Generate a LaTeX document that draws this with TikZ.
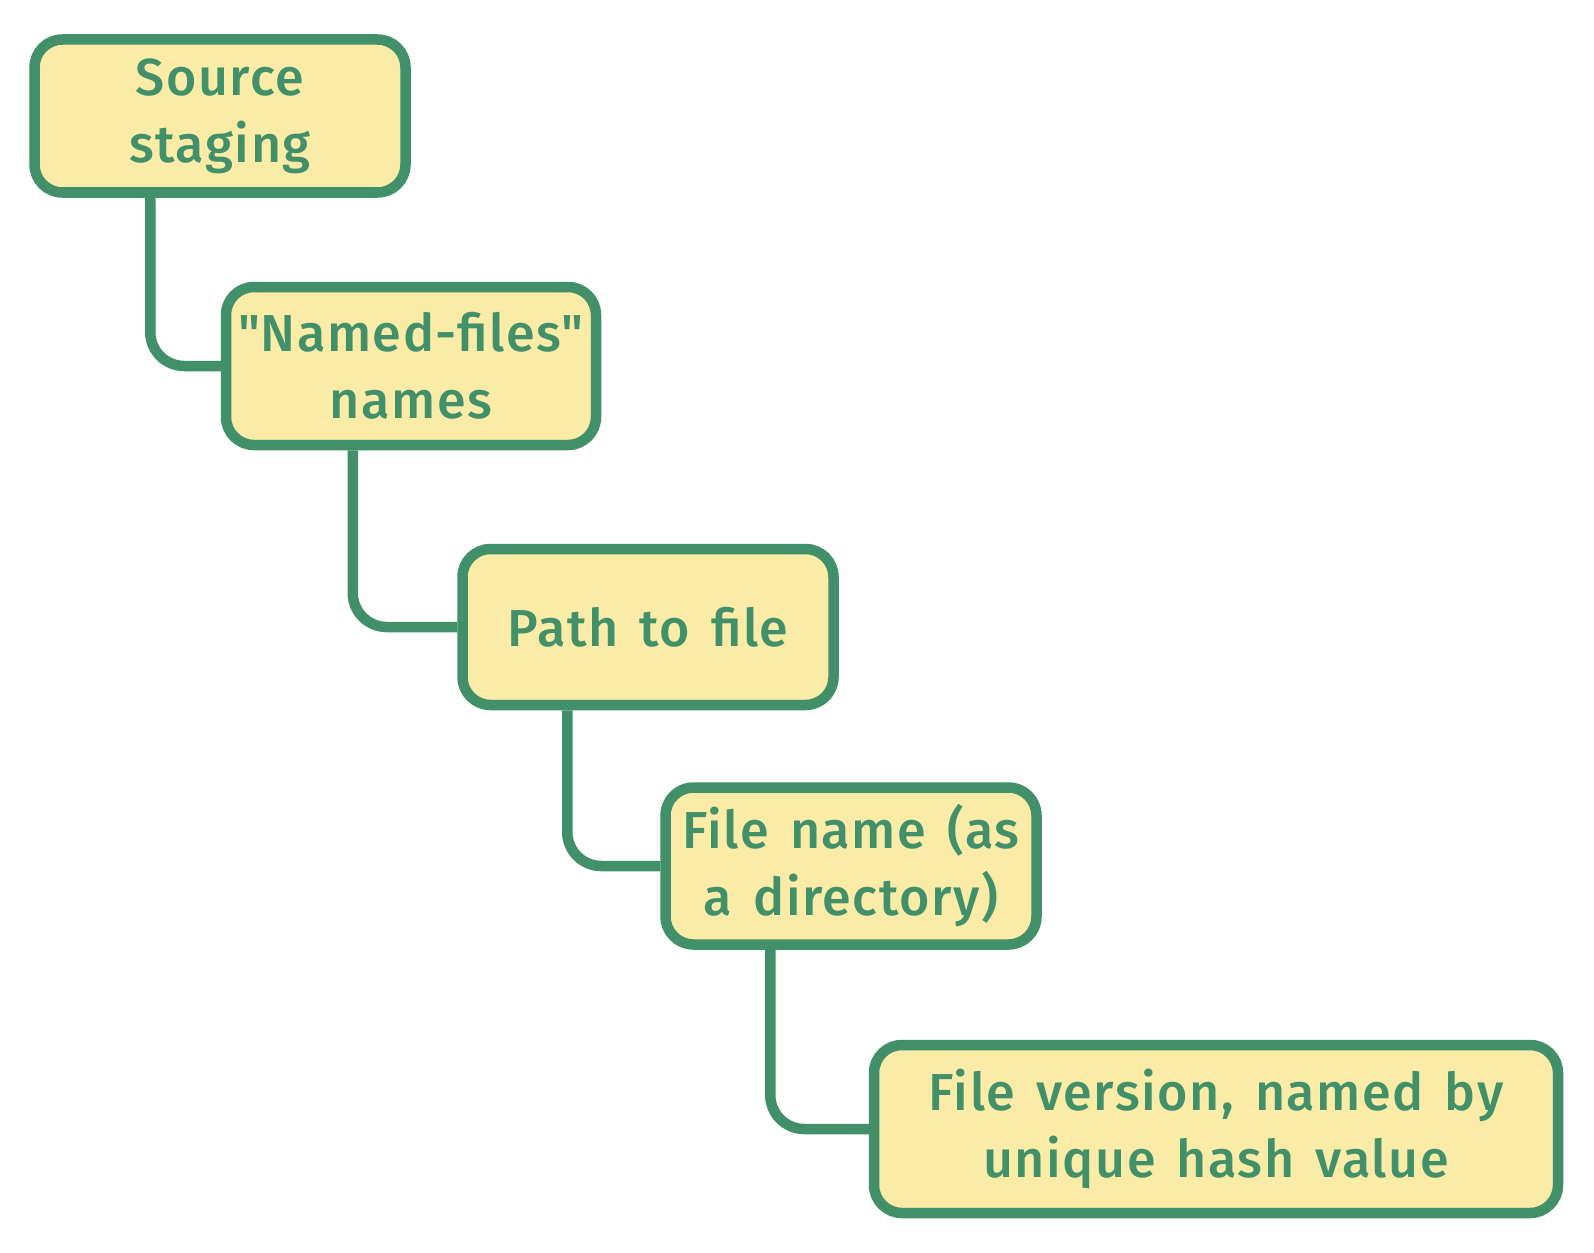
\documentclass[tikz,border=0pt]{standalone}
\usepackage{fontspec}
\setmainfont{Fira Sans Medium}[LetterSpace=3, WordSpace=1.45]
\definecolor{stk}{HTML}{42906A}
\definecolor{fil}{HTML}{FAEBA6}
\tikzset{
  box/.style={draw=stk, fill=fil, line width=10.5pt, rounded corners=28pt,
    align=center, text=stk, inner sep=0pt,
    font=\fontsize{52}{67}\selectfont},
  conn/.style={draw=stk, line width=10.5pt, rounded corners=34pt}
}
\begin{document}
\begin{tikzpicture}[x=1pt,y=-1pt]
\useasboundingbox (0,0) rectangle (1594,1252);
\node[box, minimum width=371pt, minimum height=153pt] (b1) at (220,116) {Source\\staging};
\node[box, minimum width=370pt, minimum height=158pt] (b2) at (411,366) {\textquotedbl Named-files\textquotedbl\\names};
\node[box, minimum width=371pt, minimum height=156pt] (b3) at (648,627) {Path to file};
\node[box, minimum width=371pt, minimum height=157pt] (b4) at (851,866) {File name (as\\a directory)};
\node[box, minimum width=684pt, minimum height=168pt] (b5) at (1216,1129) {File version, named by\\unique hash value};
\draw[conn] (b1.south west) ++(121,0) |- (b2.west);
\draw[conn] (b2.south west) ++(132,0) |- (b3.west);
\draw[conn] (b3.south west) ++(110,0) |- (b4.west);
\draw[conn] (b4.south west) ++(110,0) |- (b5.west);
\end{tikzpicture}
\end{document}
